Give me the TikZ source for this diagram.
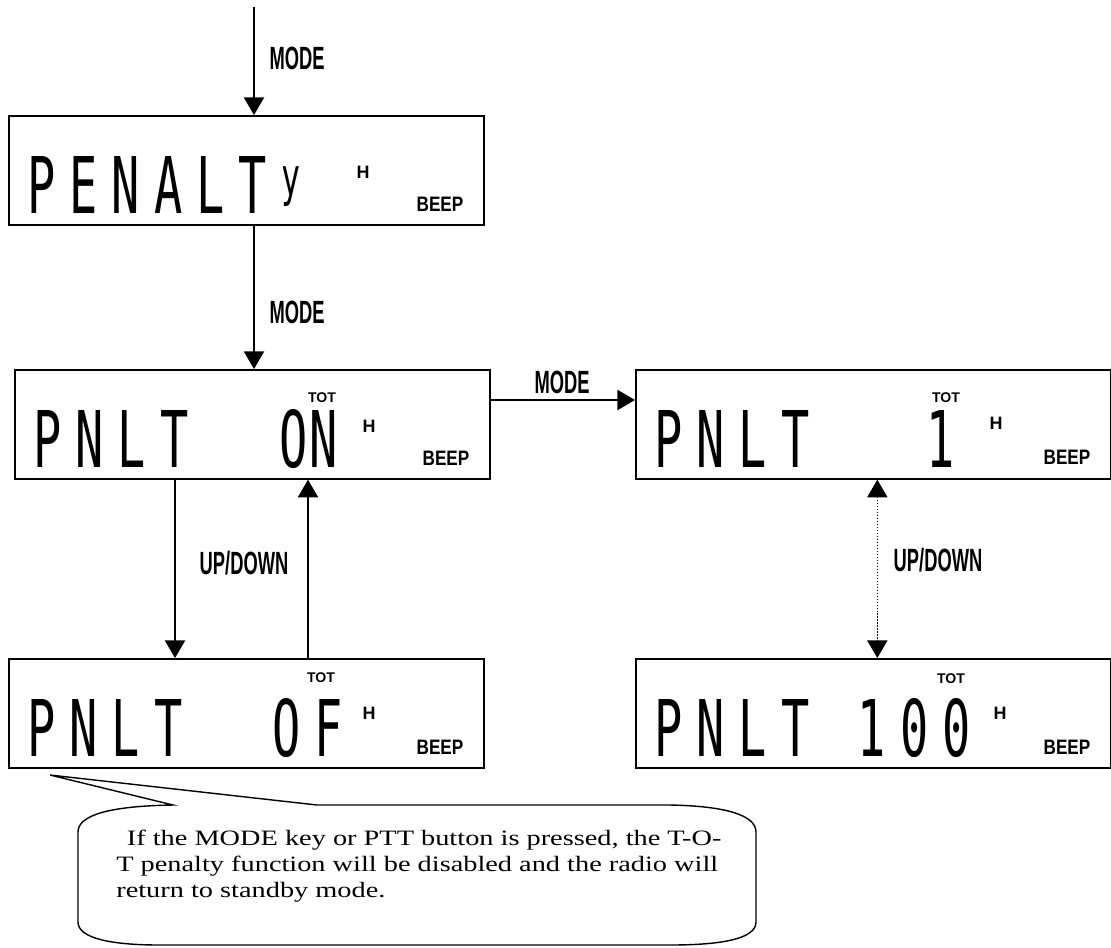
\documentclass[tikz,border=0pt]{standalone}
\usepackage{fontspec}
\setmainfont{Liberation Serif}[FakeStretch=1.29]
\newfontfamily\lcdfont{DejaVu Sans Mono}[FakeStretch=0.6,LetterSpace=18]
\newfontfamily\keyfont{Liberation Sans}[FakeStretch=0.57]
\newfontfamily\tagfont{Liberation Sans}
\newfontfamily\beepfont{Liberation Sans}[FakeStretch=0.82]
\usetikzlibrary{arrows.meta,positioning,calc}

\begin{document}
\begin{tikzpicture}[
  x=0.02cm, y=-0.02cm,
  lcd/.style={draw,line width=1pt,minimum width=9.5cm,minimum height=2.18cm,anchor=north west,inner sep=0pt},
  seg/.style={font=\lcdfont\fontsize{44.5}{44.5}\selectfont,inner sep=0pt},
  tot/.style={font=\tagfont\bfseries\fontsize{8}{8}\selectfont,inner sep=0pt},
  hi/.style={font=\tagfont\bfseries\fontsize{10.2}{10.2}\selectfont,inner sep=0pt},
  beep/.style={font=\beepfont\bfseries\fontsize{11.9}{11.9}\selectfont,inner sep=0pt},
  key/.style={font=\keyfont\bfseries\fontsize{18.3}{18.3}\selectfont,inner sep=0pt},
  arrow/.style={-{Triangle[length=10pt,width=11.5pt]},line width=0.7pt}
]
\useasboundingbox (0,0) rectangle (1111,947);

% displays
\node[lcd] (b1) at (8,115) {};
\node[lcd] (b2) at (14,369) {};
\node[lcd] (b3) at (635,369) {};
\node[lcd] (b4) at (8,658) {};
\node[lcd] (b5) at (635,658) {};

\node[seg,anchor=base west] (w1) at ($(b1.north west)+(19,98)$) {PENALT\hspace{8pt}\raisebox{10pt}{\fontsize{30}{30}\selectfont y}};
\node[seg,anchor=base west] (w2) at ($(b2.north west)+(19,98)$) {PNLT};
\node[seg,anchor=base west] (w3) at ($(b3.north west)+(19,98)$) {PNLT};
\node[seg,anchor=base west] (w4) at ($(b4.north west)+(19,98)$) {PNLT};
\node[seg,anchor=base west] (w5) at ($(b5.north west)+(19,98)$) {PNLT};

\node[seg,anchor=base east] (v2) at ($(b2.north west)+(324,98)$) {O\kern1pt N};
\node[seg,anchor=base east] (v3) at ($(b3.north west)+(320,98)$) {1};
\node[seg,anchor=base east] (v4) at ($(b4.north west)+(335,98)$) {OF};
\node[seg,anchor=base east] (v5) at ($(b5.north west)+(336,98)$) {100};

\node[tot] (t2) at ($(b2.north west)+(308,29)$) {TOT};
\node[tot] (t3) at ($(b3.north west)+(311,29)$) {TOT};
\node[tot] (t4) at ($(b4.north west)+(313,20)$) {TOT};
\node[tot] (t5) at ($(b5.north west)+(316,21)$) {TOT};

\node[hi] (h1) at ($(b1.north west)+(355,57)$) {H};
\node[hi] (h2) at ($(b2.north west)+(355,57)$) {H};
\node[hi] (h3) at ($(b3.north west)+(361,54)$) {H};
\node[hi] (h4) at ($(b4.north west)+(361,55)$) {H};
\node[hi] (h5) at ($(b5.north west)+(365,55)$) {H};

\node[beep] (p1) at ($(b1.north west)+(432,89)$) {BEEP};
\node[beep] (p2) at ($(b2.north west)+(432,89)$) {BEEP};
\node[beep] (p3) at ($(b3.north west)+(432,88)$) {BEEP};
\node[beep] (p4) at ($(b4.north west)+(432,89)$) {BEEP};
\node[beep] (p5) at ($(b5.north west)+(432,89)$) {BEEP};

% keys
\coordinate (start) at (254,7);
\draw[arrow] (start) -- (start |- b1.north);
\node[key] (k1) at (297,58) {MODE};
\draw[arrow] (start |- b1.south) -- (start |- b2.north);
\node[key] (k2) at (297,312) {MODE};
\draw[arrow] ($(b2.north east)+(0,31)$) -- ($(b3.north west)+(0,31)$);
\node[key] (k3) at (562,382) {MODE};
\draw[arrow] ($(b2.south west)+(161,0)$) -- ($(b4.north west)+(167,0)$);
\draw[arrow] ($(b4.north west)+(300,0)$) -- ($(b2.south west)+(294,0)$);
\node[key] (k4) at (244,563) {UP/DOWN};
\draw[arrow,densely dotted,{Triangle[length=10pt,width=11.5pt]}-{Triangle[length=10pt,width=11.5pt]}] ($(b3.south)+(4,0)$) -- ($(b5.north)+(4,0)$);
\node[key] (k5) at (938,560) {UP/DOWN};

% note
\coordinate (tip) at (50,775);
\coordinate (n1) at (173,805);
\coordinate (n2) at (317,805);
\draw[line width=0.8pt] (n2) -- (tip) -- (n1)
  .. controls (110,806) and (78,815) .. (78,832) -- (78,922)
  .. controls (78,938) and (110,945) .. (160,945) -- (670,945)
  .. controls (725,945) and (756,938) .. (756,922) -- (756,832)
  .. controls (756,815) and (725,806) .. (670,805) -- (n2);
\node[anchor=north west,align=left,inner sep=0pt,font=\fontsize{12.5}{14.8}\selectfont] (note) at (116,830)
  {\hspace*{6pt}If the MODE key or PTT button is pressed, the T-O-\\
   T penalty function will be disabled and the radio will\\
   return to standby mode.};
\end{tikzpicture}
\end{document}
